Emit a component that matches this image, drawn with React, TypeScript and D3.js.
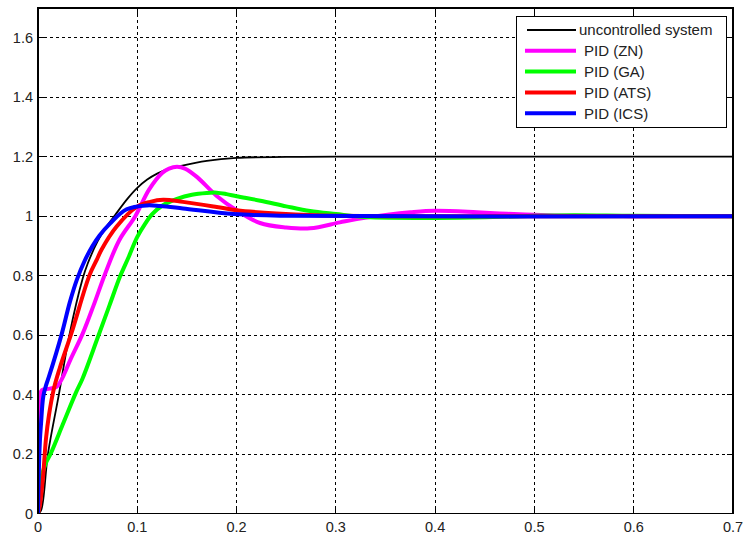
import React from "react";
import * as d3 from "d3";

const W = 743;
const H = 535;

const xTicks = [0, 0.1, 0.2, 0.3, 0.4, 0.5, 0.6, 0.7];
const yTicks = [0, 0.2, 0.4, 0.6, 0.8, 1, 1.2, 1.4, 1.6];
const xTickLabels = ["0", "0.1", "0.2", "0.3", "0.4", "0.5", "0.6", "0.7"];
const yTickLabels = ["0", "0.2", "0.4", "0.6", "0.8", "1", "1.2", "1.4", "1.6"];

const seriesNames = ["uncontrolled system", "PID (ZN)", "PID (GA)", "PID (ATS)", "PID (ICS)"];

const tBlack = [0, 0.003, 0.01, 0.021, 0.0316, 0.045, 0.05, 0.06, 0.068, 0.0775, 0.09, 0.1, 0.11, 0.12, 0.13, 0.143, 0.17, 0.2, 0.25, 0.3, 0.7];
const vBlack = [0, 0.01, 0.2, 0.4, 0.6, 0.79, 0.84, 0.915, 0.96, 1.003, 1.058, 1.095, 1.123, 1.143, 1.157, 1.168, 1.186, 1.196, 1.199, 1.2, 1.2];

const tZN = [0, 0.001, 0.002, 0.004, 0.012, 0.019, 0.024, 0.033, 0.045, 0.056, 0.068, 0.082, 0.098, 0.112, 0.125, 0.132, 0.14, 0.148, 0.16, 0.18, 0.2, 0.2236, 0.25, 0.274, 0.304, 0.321, 0.354, 0.375, 0.4, 0.442, 0.465, 0.485, 0.52, 0.6, 0.7];
const vZN = [0, 0.29, 0.4, 0.415, 0.42, 0.427, 0.452, 0.52, 0.605, 0.7, 0.81, 0.92, 1.0, 1.09, 1.145, 1.16, 1.166, 1.16, 1.132, 1.068, 1.02, 0.977, 0.962, 0.959, 0.979, 0.99, 1.006, 1.013, 1.018, 1.013, 1.009, 1.006, 1.002, 1.0, 1.0];

const tGA = [0, 0.002, 0.004, 0.008, 0.013, 0.025, 0.038, 0.045, 0.06, 0.072, 0.083, 0.091, 0.1, 0.108, 0.115, 0.125, 0.14, 0.155, 0.17, 0.18, 0.19, 0.2, 0.224, 0.25, 0.274, 0.3, 0.33, 0.4, 0.45, 0.5, 0.54, 0.6, 0.7];
const vGA = [0, 0.09, 0.13, 0.17, 0.203, 0.3, 0.405, 0.455, 0.59, 0.7, 0.8, 0.86, 0.93, 0.975, 1.007, 1.035, 1.058, 1.072, 1.078, 1.079, 1.074, 1.067, 1.052, 1.033, 1.017, 1.007, 0.997, 0.994, 0.996, 1.001, 1.003, 1.001, 1.0];

const tATS = [0, 0.002, 0.005, 0.008, 0.011, 0.016, 0.022, 0.034, 0.0517, 0.059, 0.0638, 0.079, 0.0994, 0.113, 0.126, 0.146, 0.18, 0.2, 0.24, 0.28, 0.35, 0.7];
const vATS = [0, 0.03, 0.12, 0.25, 0.33, 0.42, 0.49, 0.61, 0.8, 0.852, 0.886, 0.964, 1.031, 1.048, 1.055, 1.048, 1.031, 1.02, 1.009, 1.003, 1.0, 1.0];

const tICS = [0, 0.0005, 0.002, 0.003, 0.0053, 0.008, 0.011, 0.024, 0.032, 0.039, 0.047, 0.055, 0.062, 0.0725, 0.0893, 0.1095, 0.123, 0.146, 0.197, 0.25, 0.7];
const vICS = [0, 0.1, 0.25, 0.3, 0.393, 0.43, 0.46, 0.605, 0.71, 0.785, 0.85, 0.9, 0.935, 0.975, 1.023, 1.036, 1.034, 1.026, 1.007, 1.001, 1.0];

const series = [
  { name: seriesNames[0], t: tBlack, v: vBlack, color: "#000000", width: 1.8 },
  { name: seriesNames[1], t: tZN, v: vZN, color: "#ff00ff", width: 4 },
  { name: seriesNames[2], t: tGA, v: vGA, color: "#00ff00", width: 4 },
  { name: seriesNames[3], t: tATS, v: vATS, color: "#ff0000", width: 4 },
  { name: seriesNames[4], t: tICS, v: vICS, color: "#0000ff", width: 4 },
];

const plot = { left: 38, right: 733, top: 8, bottom: 513.5 };

export default function App() {
  const x = d3.scaleLinear().domain([0, 0.7]).range([plot.left, plot.right]);
  const y = d3.scaleLinear().domain([0, 1.7]).range([plot.bottom, plot.top]);
  const font = "'Liberation Sans', Arial, sans-serif";
  const textColor = "#222";

  const line = d3
    .line<[number, number]>()
    .x((d) => x(d[0]))
    .y((d) => y(d[1]))
    .curve(d3.curveCatmullRom.alpha(0.5));

  const tickLen = 6;
  const legend = { x0: 516.5, y0: 16, x1: 726.5, y1: 127.5 };
  const rowY = (i: number) => 30 + i * 20.8;

  return (
    <svg
      width={W}
      height={H}
      style={{ position: "absolute", left: 0, top: 0, background: "#fff" }}
      fontFamily={font}
    >
      <rect x={0} y={0} width={W} height={H} fill="#fff" />
      <defs>
        <clipPath id="plotclip">
          <rect x={plot.left} y={plot.top} width={plot.right - plot.left} height={plot.bottom - plot.top} />
        </clipPath>
      </defs>
      {xTicks.slice(1, -1).map((t, i) => (
        <line
          key={"gx" + i}
          x1={x(t)}
          x2={x(t)}
          y1={plot.top}
          y2={plot.bottom}
          stroke="#000"
          strokeWidth={1}
          strokeDasharray="3,3"
          shapeRendering="crispEdges"
        />
      ))}
      {yTicks.slice(1).map((t, i) => (
        <line
          key={"gy" + i}
          x1={plot.left}
          x2={plot.right}
          y1={y(t)}
          y2={y(t)}
          stroke="#000"
          strokeWidth={1}
          strokeDasharray="3,3"
          shapeRendering="crispEdges"
        />
      ))}
      {xTicks.map((t, i) => (
        <g key={"tx" + i}>
          <line x1={x(t)} x2={x(t)} y1={plot.bottom} y2={plot.bottom - tickLen} stroke="#000" shapeRendering="crispEdges" />
          <line x1={x(t)} x2={x(t)} y1={plot.top} y2={plot.top + tickLen} stroke="#000" shapeRendering="crispEdges" />
          <text x={x(t)} y={532} textAnchor="middle" fontSize={14.5} fill={textColor}>
            {xTickLabels[i]}
          </text>
        </g>
      ))}
      {yTicks.map((t, i) => (
        <g key={"ty" + i}>
          <line x1={plot.left} x2={plot.left + tickLen} y1={y(t)} y2={y(t)} stroke="#000" shapeRendering="crispEdges" />
          <line x1={plot.right} x2={plot.right - tickLen} y1={y(t)} y2={y(t)} stroke="#000" shapeRendering="crispEdges" />
          <text x={33} y={y(t)} dy="0.36em" textAnchor="end" fontSize={14.5} fill={textColor}>
            {yTickLabels[i]}
          </text>
        </g>
      ))}
      <g clipPath="url(#plotclip)">
        {series.map((s, i) => (
          <path
            key={"s" + i}
            d={line(s.t.map((t, j) => [t, s.v[j]] as [number, number])) || ""}
            fill="none"
            stroke={s.color}
            strokeWidth={s.width}
            strokeLinejoin="round"
          />
        ))}
      </g>
      <rect
        x={plot.left}
        y={plot.top}
        width={plot.right - plot.left}
        height={plot.bottom - plot.top}
        fill="none"
        stroke="#000"
        strokeWidth={1.2}
        shapeRendering="crispEdges"
      />
      <rect
        x={legend.x0}
        y={legend.y0}
        width={legend.x1 - legend.x0}
        height={legend.y1 - legend.y0}
        fill="#fff"
        stroke="#000"
        strokeWidth={1}
        shapeRendering="crispEdges"
      />
      {series.map((s, i) => (
        <g key={"lg" + i}>
          <line
            x1={i === 0 ? 527 : 525}
            x2={576}
            y1={rowY(i)}
            y2={rowY(i)}
            stroke={s.color}
            strokeWidth={i === 0 ? 2 : 4}
          />
          <text x={i === 0 ? 579 : 584} y={rowY(i)} dy="0.36em" fontSize={15} fill={textColor}>
            {s.name}
          </text>
        </g>
      ))}
    </svg>
  );
}
